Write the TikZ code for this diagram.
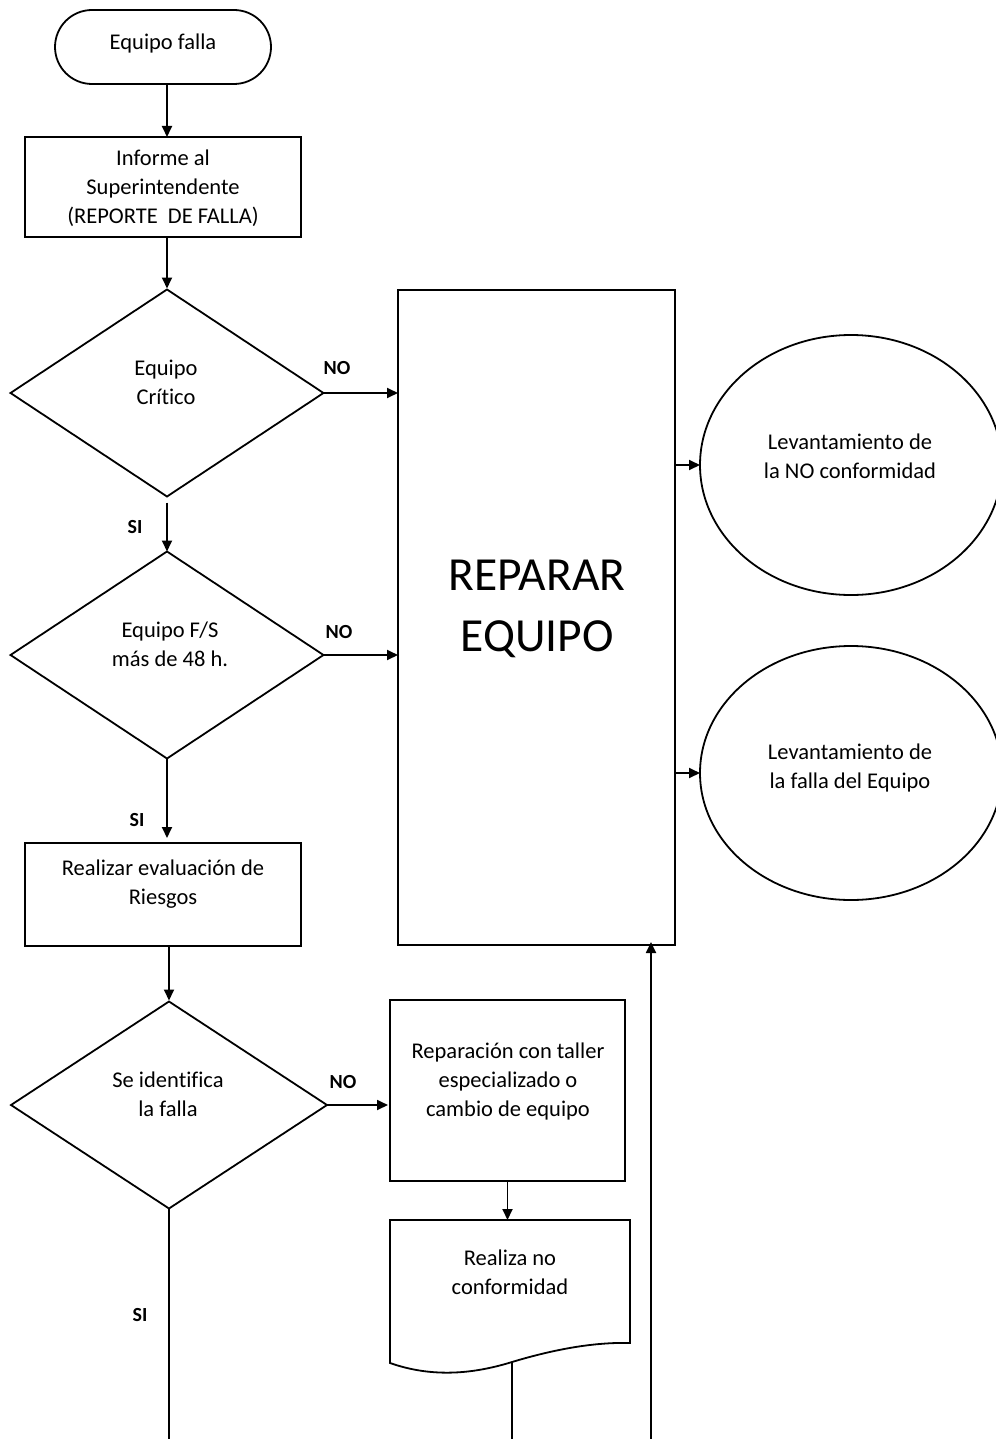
\documentclass[tikz,border=0pt]{standalone}
\usepackage{fontspec}
\setmainfont{Carlito}[Ligatures=NoCommon]
\usetikzlibrary{shapes.geometric,arrows.meta}
\begin{document}
\begin{tikzpicture}[x=1pt,y=-1pt,
  line width=1.8pt,
  every node/.style={inner sep=0pt, outer sep=0pt},
  box/.style={draw, rectangle},
  term/.style={draw, rectangle, rounded corners=37pt},
  dec/.style={draw, diamond, minimum width=313pt, minimum height=207pt},
  oval/.style={draw, ellipse, minimum width=302pt, minimum height=260pt},
  txt/.style={align=center, font=\fontsize{22.5}{29}\selectfont},
  big/.style={align=center, font=\fontsize{47.5}{61}\selectfont},
  lab/.style={font=\fontsize{20}{24}\selectfont\bfseries},
  arr/.style={-{Triangle[length=11pt,width=10pt]}},
]
\useasboundingbox (0,0) rectangle (995,1439);

% shapes
\node[term, minimum width=216pt, minimum height=74pt] (start) at (163,47) {};
\node[box, minimum width=276pt, minimum height=100pt] (inf) at (163,187) {};
\node[dec] (d1) at (167,393) {};
\node[dec] (d2) at (167,655) {};
\node[box, minimum width=276pt, minimum height=103pt] (eval) at (163,894.5) {};
\node[dec, minimum width=316pt] (d3) at (169,1105) {};
\node[box, minimum width=277pt, minimum height=655pt] (rep) at (536.5,617.5) {};
\node[oval] (o1) at (851,465) {};
\node[oval, minimum height=254pt] (o2) at (851,773) {};
\node[box, minimum width=235pt, minimum height=181pt] (tal) at (507.5,1090.5) {};

% document symbol with wavy lower edge
\node[minimum width=240pt, minimum height=123pt] (doc) at (510,1281.5) {};
\draw (doc.north west) coordinate (dnw)
  (dnw) -- (dnw |- 0,1363) coordinate (dsw)
  .. controls (430,1377) and (470,1375) .. (512,1362) coordinate (dmid)
  .. controls (555,1349) and (595,1342) .. (doc.south east)
  -- (doc.north east) -- cycle;

% texts
\node[txt] (tstart) at (163,44) {Equipo falla};
\node[txt] (tinf) at (163,188) {Informe al\\Superintendente\\(REPORTE\ \ DE FALLA)};
\node[txt] (td1) at (166,382) {Equipo\\Crítico};
\node[txt] (td2) at (170,644) {Equipo F/S\\más de 48 h.};
\node[txt] (teval) at (163,884) {Realizar evaluación de\\Riesgos};
\node[txt] (td3) at (168,1094) {Se identifica\\la falla};
\node[txt] (ttal) at (508,1081) {Reparación con taller\\especializado o\\cambio de equipo};
\node[txt] (tdoc) at (510,1272) {Realiza no\\conformidad};
\node[big] (trep) at (537,609) {REPARAR\\EQUIPO};
\node[txt] (to1) at (850,456) {Levantamiento de\\la NO conformidad};
\node[txt] (to2) at (850,768) {Levantamiento de\\la falla del Equipo};

% branch labels
\node[lab] (n1) at (337,368) {NO};
\node[lab] (n2) at (339,632) {NO};
\node[lab] (n3) at (343,1082) {NO};
\node[lab] (s1) at (135,527) {SI};
\node[lab] (s2) at (137,820) {SI};
\node[lab] (s3) at (140,1315) {SI};

% open ends at the lower border
\coordinate (endA) at (174,1439);
\coordinate (endB) at (512,1439);
\coordinate (endC) at (651,1439);

% connectors
\draw[arr] (start.south -| d1) -- (inf.north -| d1);
\draw[arr] (inf.south -| d1) -- ([yshift=1pt]d1.north);
\draw[arr] ([yshift=-6pt]d1.south) -- (d2.north);
\draw[arr] (d2.south) -- ([yshift=5pt]eval.north -| d2);
\draw[arr] (eval.south -| d3) -- ([yshift=1pt]d3.north);
\draw[arr] (d1.east) -- (d1.east -| rep.west);
\draw[arr] (d2.east) -- (d2.east -| rep.west);
\draw[arr] (d3.east) -- ([xshift=-2pt]d3.east -| tal.west);
\draw[arr] (rep.east |- o1) -- (o1.west);
\draw[arr] (rep.east |- o2) -- (o2.west);
\draw[arr] (tal.south) -- (tal.south |- doc.north);
\draw (d3.south) -- (d3.south |- endA);
\draw (dmid) -- (endB);
\draw[arr] (endC) -- ([yshift=3pt]endC |- rep.south);
\end{tikzpicture}
\end{document}
